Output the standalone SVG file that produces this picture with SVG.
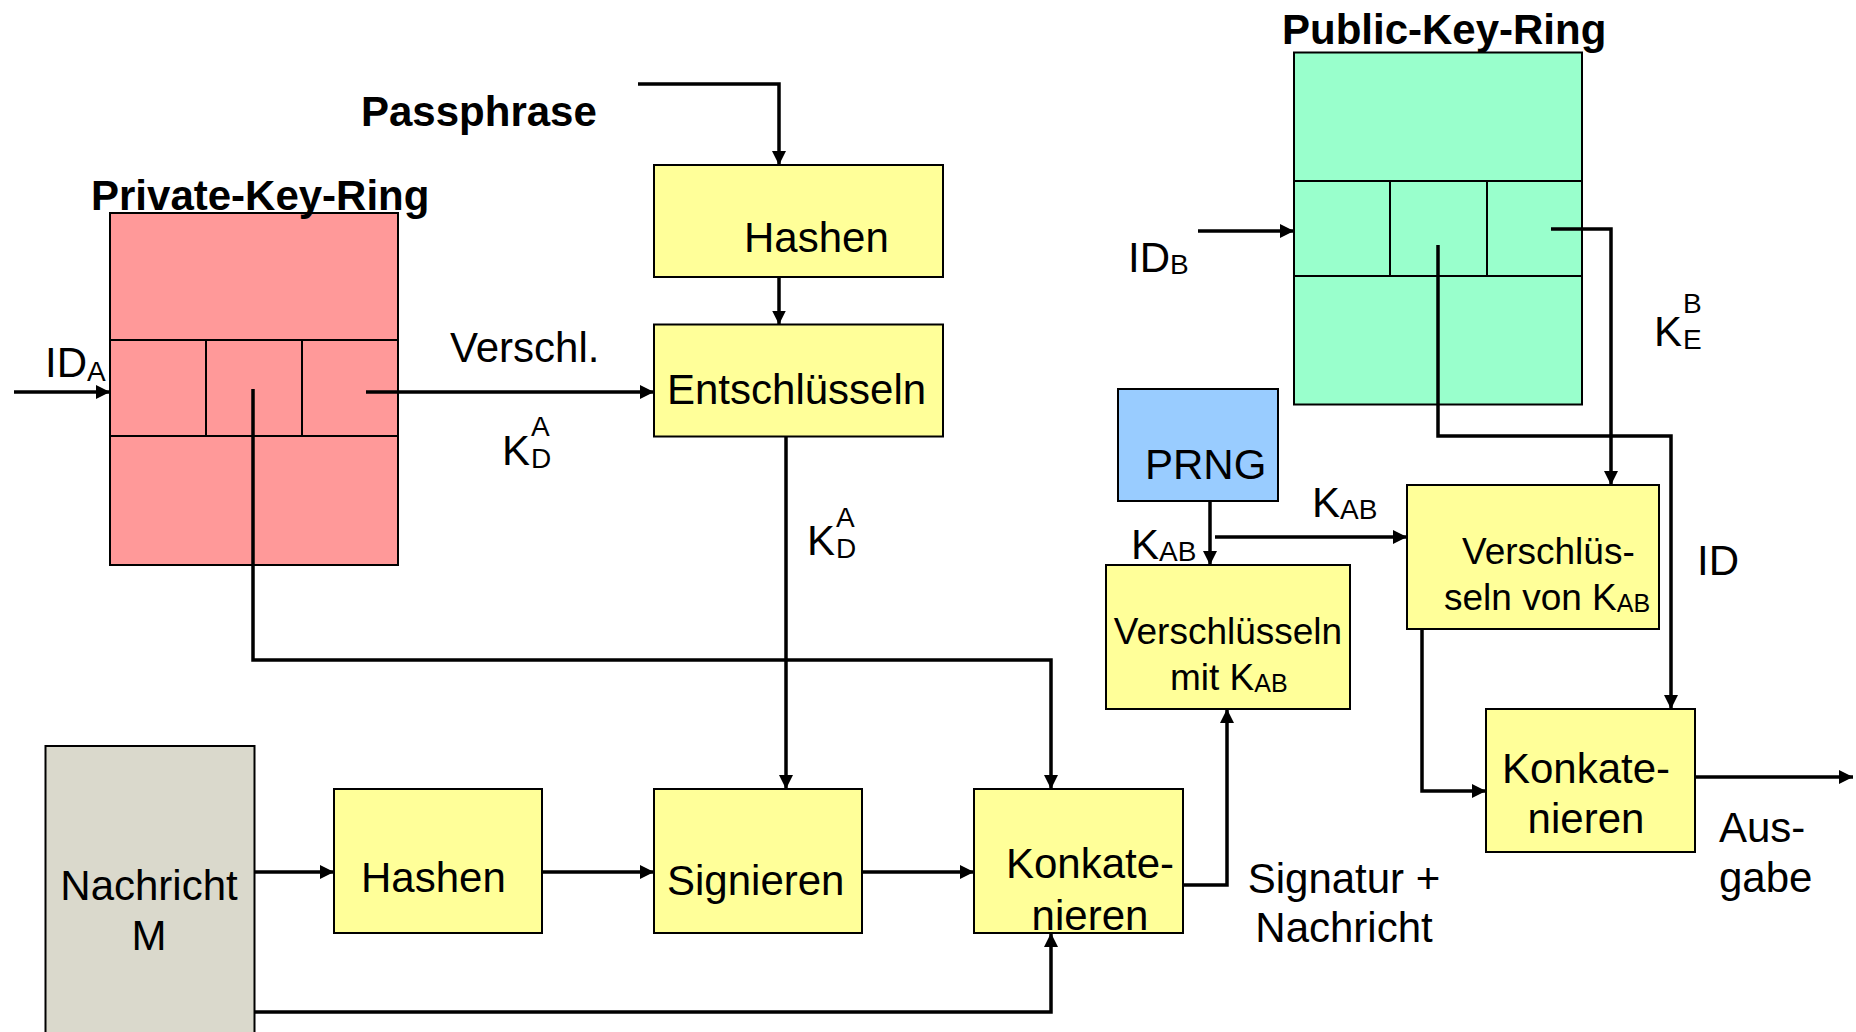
<svg xmlns="http://www.w3.org/2000/svg" width="1856" height="1032" viewBox="0 0 1856 1032">
  <defs>
    <marker id="arrow" markerUnits="userSpaceOnUse" markerWidth="15" markerHeight="14" refX="14" refY="7" orient="auto">
      <path d="M0,0 L14,7 L0,14 z" fill="#000"/>
    </marker>
    <style>
      text { font-family: "Liberation Sans", Arial, Helvetica, sans-serif; font-size: 42px; fill: #000; }
      .bold { font-weight: bold; }
      .small { font-size: 37px; }
      .sub { font-size: 28px; }
      .subs { font-size: 25px; }
      .box { stroke: #000; stroke-width: 2; }
      .yellow { fill: #FFFF99; }
      .grid { stroke: #000; stroke-width: 2; fill: none; }
      .wire { stroke: #000; stroke-width: 3.5; fill: none; }
      .arr { marker-end: url(#arrow); }
    </style>
  </defs>

  <rect width="1856" height="1032" fill="#fff"/>

  <!-- Private key ring -->
  <g id="private-key-ring">
    <rect class="box" x="110" y="213" width="288" height="352" fill="#FF9999"/>
    <path class="grid" d="M110,340 H398 M110,436 H398 M206,340 V436 M302,340 V436"/>
    <text class="bold" x="91" y="210">Private-Key-Ring</text>
  </g>

  <!-- Public key ring -->
  <g id="public-key-ring">
    <rect class="box" x="1294" y="52.5" width="288" height="352" fill="#99FFCC"/>
    <path class="grid" d="M1294,181 H1582 M1294,276 H1582 M1390,181 V276 M1487,181 V276"/>
    <text class="bold" x="1282" y="44">Public-Key-Ring</text>
  </g>

  <g id="hashen-passphrase">
    <rect class="box yellow" x="654" y="165" width="289" height="112"/>
    <text x="744" y="252">Hashen</text>
  </g>

  <g id="entschluesseln">
    <rect class="box yellow" x="654" y="324.5" width="289" height="112"/>
    <text x="667" y="404">Entschlüsseln</text>
  </g>

  <g id="prng">
    <rect class="box" x="1118" y="389" width="160" height="112" fill="#99CCFF"/>
    <text x="1145" y="479">PRNG</text>
  </g>

  <g id="verschluesseln-mit-kab">
    <rect class="box yellow" x="1106" y="565" width="244" height="144"/>
    <text class="small" x="1228" y="644" text-anchor="middle">Verschlüsseln</text>
    <text class="small" x="1170" y="690">mit K<tspan class="subs" dy="2">AB</tspan></text>
  </g>

  <g id="verschluesseln-von-kab">
    <rect class="box yellow" x="1407" y="485" width="252" height="144"/>
    <text class="small" x="1462" y="564">Verschlüs-</text>
    <text class="small" x="1444" y="610">seln von K<tspan class="subs" dy="2">AB</tspan></text>
  </g>

  <g id="nachricht">
    <rect class="box" x="45.5" y="746" width="209" height="300" fill="#DAD9CC"/>
    <text x="149" y="900" text-anchor="middle">Nachricht</text>
    <text x="149" y="950" text-anchor="middle">M</text>
  </g>

  <g id="hashen-nachricht">
    <rect class="box yellow" x="334" y="789" width="208" height="144"/>
    <text x="361" y="892">Hashen</text>
  </g>

  <g id="signieren">
    <rect class="box yellow" x="654" y="789" width="208" height="144"/>
    <text x="667" y="895">Signieren</text>
  </g>

  <g id="konkatenieren-1">
    <rect class="box yellow" x="974" y="789" width="209" height="144"/>
    <text x="1090" y="878" text-anchor="middle">Konkate-</text>
    <text x="1090" y="930" text-anchor="middle">nieren</text>
  </g>

  <g id="konkatenieren-2">
    <rect class="box yellow" x="1486" y="709" width="209" height="143"/>
    <text x="1586" y="783" text-anchor="middle">Konkate-</text>
    <text x="1586" y="833" text-anchor="middle">nieren</text>
  </g>

  <!-- Connectors -->
  <g id="connectors">
    <path class="wire arr" d="M14,392 H110"/>
    <path class="wire arr" d="M366,392 H654"/>
    <path class="wire arr" d="M638,84 H779 V165"/>
    <path class="wire arr" d="M779,277 V324.5"/>
    <path class="wire arr" d="M786,436.5 V789"/>
    <path class="wire arr" d="M253,389 V660 H1051 V789"/>
    <path class="wire arr" d="M254.5,872 H334"/>
    <path class="wire arr" d="M542,872 H654"/>
    <path class="wire arr" d="M862,872 H974"/>
    <path class="wire arr" d="M254.5,1012 H1051 V933"/>
    <path class="wire arr" d="M1183,885 H1227 V709"/>
    <path class="wire arr" d="M1210,501 V565"/>
    <path class="wire arr" d="M1215,537 H1407"/>
    <path class="wire arr" d="M1198,231 H1294"/>
    <path class="wire arr" d="M1551,229 H1611 V485"/>
    <path class="wire arr" d="M1438,245 V436 H1671 V709"/>
    <path class="wire arr" d="M1422,629 V791 H1486"/>
    <path class="wire arr" d="M1695,777 H1853"/>
  </g>

  <!-- Labels -->
  <g id="labels">
    <text class="bold" x="361" y="126">Passphrase</text>
    <text x="45" y="377">ID<tspan class="sub" dy="4">A</tspan></text>
    <text x="450" y="362">Verschl.</text>
    <text x="502" y="465">K<tspan class="sub" x="531" y="436">A</tspan><tspan class="sub" x="531" y="468">D</tspan></text>
    <text x="807" y="555">K<tspan class="sub" x="836" y="527">A</tspan><tspan class="sub" x="836" y="558">D</tspan></text>
    <text x="1128" y="272">ID<tspan class="sub" dy="2">B</tspan></text>
    <text x="1654" y="346">K<tspan class="sub" x="1683" y="313">B</tspan><tspan class="sub" x="1683" y="349">E</tspan></text>
    <text x="1131" y="559">K<tspan class="sub" dy="2">AB</tspan></text>
    <text x="1312" y="517">K<tspan class="sub" dy="2">AB</tspan></text>
    <text x="1697" y="575">ID</text>
    <text x="1344" y="893" text-anchor="middle">Signatur +</text>
    <text x="1344" y="942" text-anchor="middle">Nachricht</text>
    <text x="1719" y="842">Aus-</text>
    <text x="1719" y="892">gabe</text>
  </g>
</svg>
